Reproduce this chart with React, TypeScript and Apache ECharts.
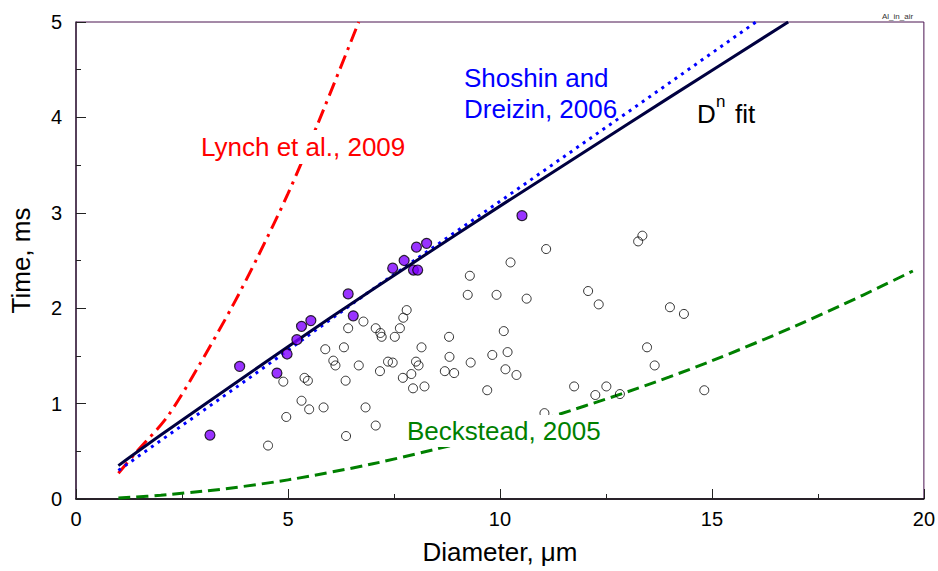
import React, { useEffect, useRef } from "react";
import * as echarts from "echarts";

const FONT = "'Liberation Sans', Arial, sans-serif";

// D^n fit (solid navy)
const fitD = [1, 2, 4, 6, 8, 10, 12, 14, 16.8];
const fitT = [0.35, 0.67, 1.29, 1.9, 2.49, 3.07, 3.64, 4.21, 5.0];

// Shoshin and Dreizin, 2006 (blue dotted)
const shoshinD = [1, 4, 7, 10, 13, 16.04];
const shoshinT = [0.3, 1.24, 2.2, 3.12, 4.05, 5.0];

// Lynch et al., 2009 (red dash-dot)
const lynchD = [1, 1.4, 2.15, 2.85, 3.7, 4.3, 5, 5.7, 6.67];
const lynchT = [0.27, 0.48, 0.86, 1.36, 2.03, 2.55, 3.2, 3.93, 5.0];

// Beckstead, 2005 (green dashed)
const beckD = [1, 2, 4, 6, 8, 10, 12, 14, 16, 18, 19.74];
const beckT = [0.011, 0.039, 0.135, 0.28, 0.47, 0.7, 0.975, 1.28, 1.63, 2.02, 2.39];

// Filled (violet) data points
const filledD = [3.16, 3.86, 4.74, 4.98, 5.21, 5.32, 5.54, 6.42, 6.54, 7.47, 7.74, 7.96, 8.06, 8.03, 8.27, 10.52];
const filledT = [0.67, 1.39, 1.32, 1.52, 1.67, 1.81, 1.87, 2.15, 1.92, 2.42, 2.5, 2.4, 2.4, 2.64, 2.68, 2.97];

// Open data points
const openD = [
  6.78, 7.07, 6.42, 6.32, 5.88, 6.07, 6.12, 6.67, 6.36, 5.39, 5.47, 4.89, 5.32, 5.5, 5.84, 6.83, 4.96, 7.07, 6.37, 4.53,
  11.09, 10.25, 9.29, 9.24, 9.92, 10.63, 7.8, 7.72, 7.64, 7.18, 7.21, 7.52, 8.8, 10.09, 8.15, 10.18, 8.81, 9.82,
  7.36, 7.47, 8.02, 8.08, 9.31, 7.17, 8.7, 8.92, 10.13, 10.39, 7.91, 7.71, 7.95, 8.22, 9.7, 11.05,
  13.36, 13.26, 12.08, 12.33, 14.01, 14.34, 13.47, 13.65, 11.75, 12.51, 12.25, 12.83, 14.82,
];
const openT = [
  1.86, 1.79, 1.79, 1.59, 1.57, 1.45, 1.4, 1.4, 1.24, 1.27, 1.24, 1.23, 1.03, 0.94, 0.96, 0.96, 0.86, 0.77, 0.66, 0.56,
  2.62, 2.48, 2.34, 2.14, 2.14, 2.1, 1.98, 1.9, 1.79, 1.74, 1.7, 1.7, 1.7, 1.76, 1.59, 1.54, 1.49, 1.51,
  1.44, 1.43, 1.44, 1.4, 1.43, 1.34, 1.34, 1.32, 1.36, 1.3, 1.31, 1.27, 1.16, 1.18, 1.14, 0.9,
  2.76, 2.7, 2.18, 2.04, 2.01, 1.94, 1.59, 1.4, 1.18, 1.18, 1.09, 1.1, 1.14,
];

const zip = (a: number[], b: number[]) => a.map((v, i) => [v, b[i]]);

export default function App() {
  const ref = useRef<HTMLDivElement>(null);
  useEffect(() => {
    if (!ref.current) return;
    const chart = echarts.init(ref.current, null, { renderer: "svg" });
    const axisCommon = {
      type: "value" as const,
      splitLine: { show: false },
      axisTick: { show: true, inside: true, length: 10, lineStyle: { color: "#222", width: 1 } },
      minorTick: { show: true, splitNumber: 2, length: 5, lineStyle: { color: "#222", width: 1 } },
      axisLabel: { color: "#000", fontSize: 20, fontFamily: FONT },
      nameTextStyle: { color: "#000", fontSize: 26, fontFamily: FONT },
    };
    chart.setOption({
      animation: false,
      grid: {
        left: 75,
        right: 9,
        top: 22,
        bottom: 72,
        show: true,
        borderColor: "#4b1450",
        borderWidth: 1,
        backgroundColor: "#fff",
      },
      xAxis: {
        ...axisCommon,
        min: 0,
        max: 20,
        interval: 5,
        name: "Diameter, μm",
        nameLocation: "middle",
        nameGap: 40,
        axisLine: { show: true, lineStyle: { color: "#000", width: 1.5 } },
        axisLabel: { ...axisCommon.axisLabel, margin: 10 },
      },
      yAxis: {
        ...axisCommon,
        min: 0,
        max: 5,
        interval: 1,
        name: "Time, ms",
        nameLocation: "middle",
        nameGap: 42,
        axisLine: { show: true, lineStyle: { color: "#3c2840", width: 1.5 } },
        axisLabel: { ...axisCommon.axisLabel, margin: 14 },
      },
      series: [
        {
          type: "line",
          name: "Beckstead, 2005",
          data: zip(beckD, beckT),
          smooth: 0.4,
          symbol: "none",
          lineStyle: { color: "#008000", width: 3, type: [12, 6] },
          z: 2,
        },
        {
          type: "line",
          name: "Lynch et al., 2009",
          data: zip(lynchD, lynchT),
          smooth: 0.3,
          symbol: "none",
          lineStyle: { color: "#ff0000", width: 3, type: [14, 6, 3, 6] },
          z: 2,
        },
        {
          type: "line",
          name: "Shoshin and Dreizin, 2006",
          data: zip(shoshinD, shoshinT),
          symbol: "none",
          lineStyle: { color: "#0000ff", width: 3, type: [3, 5] },
          z: 3,
        },
        {
          type: "line",
          name: "Dn fit",
          data: zip(fitD, fitT),
          smooth: 0.3,
          symbol: "none",
          lineStyle: { color: "#000040", width: 3 },
          z: 4,
        },
        {
          type: "scatter",
          name: "open",
          data: zip(openD, openT),
          symbol: "circle",
          symbolSize: 9,
          itemStyle: { color: "rgba(255,255,255,0)", borderColor: "#000", borderWidth: 1 },
          z: 5,
        },
        {
          type: "scatter",
          name: "filled",
          data: zip(filledD, filledT),
          symbol: "circle",
          symbolSize: 10,
          itemStyle: { color: "#7f00ff", borderColor: "#000", borderWidth: 1.2 },
          z: 6,
        },
      ],
      graphic: [
        {
          type: "text",
          z: 100,
          style: {
            text: "Lynch et al., 2009",
            x: 199,
            y: 147,
            fill: "#ff0000",
            font: `26px ${FONT}`,
            verticalAlign: "middle",
            backgroundColor: "#fff",
            padding: [4, 2],
          },
        },
        {
          type: "text",
          z: 100,
          style: { text: "Shoshin and", x: 464, y: 78, fill: "#0000ff", font: `26px ${FONT}`, verticalAlign: "middle" },
        },
        {
          type: "text",
          z: 100,
          style: { text: "Dreizin, 2006", x: 464, y: 109, fill: "#0000ff", font: `26px ${FONT}`, verticalAlign: "middle" },
        },
        {
          type: "text",
          z: 100,
          style: { text: "D", x: 697, y: 114, fill: "#000", font: `26px ${FONT}`, verticalAlign: "middle" },
        },
        {
          type: "text",
          z: 100,
          style: { text: "n", x: 716, y: 101, fill: "#000", font: `17px ${FONT}`, verticalAlign: "middle" },
        },
        {
          type: "text",
          z: 100,
          style: { text: "fit", x: 735, y: 114, fill: "#000", font: `26px ${FONT}`, verticalAlign: "middle" },
        },
        {
          type: "text",
          z: 100,
          style: {
            text: "Beckstead, 2005",
            x: 405,
            y: 431,
            fill: "#008000",
            font: `26px ${FONT}`,
            verticalAlign: "middle",
            backgroundColor: "#fff",
            padding: [3, 2],
          },
        },
        {
          type: "text",
          z: 100,
          style: { text: "Al_in_air", x: 882, y: 16, fill: "#333", font: `8px ${FONT}`, verticalAlign: "middle" },
        },
      ],
    });
    return () => chart.dispose();
  }, []);
  return (
    <div
      ref={ref}
      style={{ position: "fixed", left: 0, top: 0, width: 938, height: 571, background: "#fff" }}
    />
  );
}
